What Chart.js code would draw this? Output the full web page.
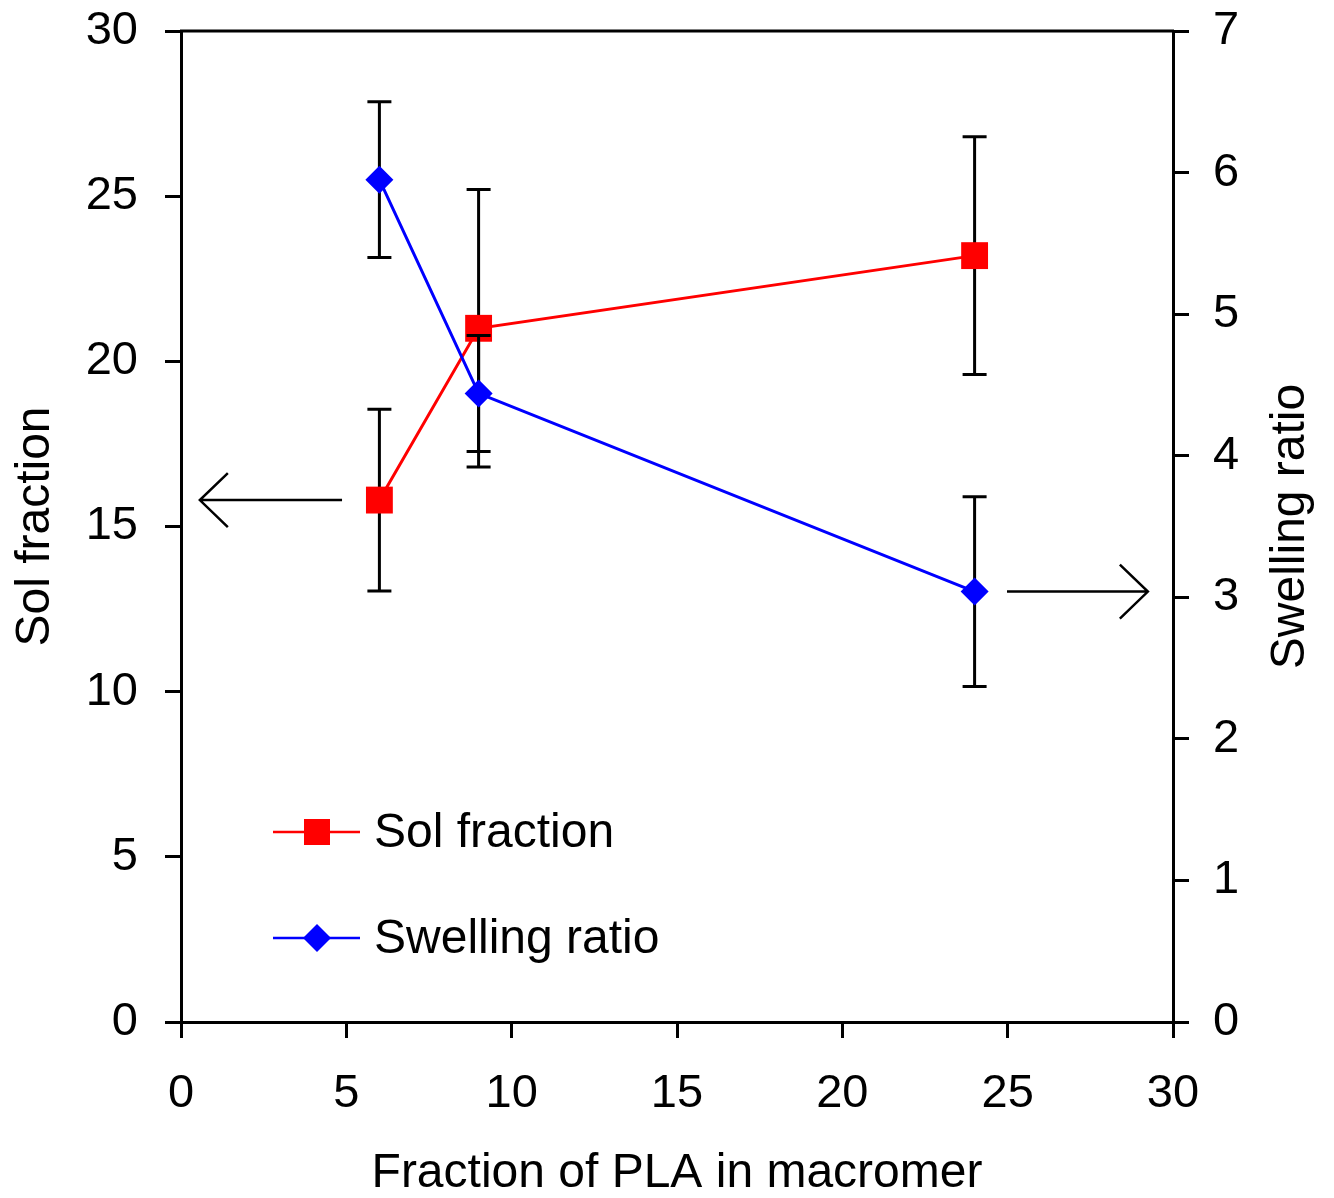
<!DOCTYPE html>
<html>
<head>
<meta charset="utf-8">
<script src="https://cdn.jsdelivr.net/npm/chart.js@4.4.0/dist/chart.umd.min.js"></script>
<style>
  body { margin: 0; background: #fff; }
  #wrap { width: 1334px; height: 1198px; }
</style>
</head>
<body>
<div id="wrap"><canvas id="plaChart" width="1334" height="1198"></canvas></div>
<script>
// values
const plaFraction = [6, 9, 24];
const solFraction = [15.8, 21.0, 23.2];
const solError = [2.75, 4.2, 3.6];
const swellingRatio = [5.95, 4.44, 3.04];
const swellingError = [0.55, 0.41, 0.67];

const xTicks = [0, 5, 10, 15, 20, 25, 30];
const solTicks = [0, 5, 10, 15, 20, 25, 30];
const swellTicks = [0, 1, 2, 3, 4, 5, 6, 7];

// arrows pointing at the axis each series belongs to (data coordinates)
const arrowSol = { from: 4.87, to: 0.57, y: 15.8, axis: 'y' };
const arrowSwell = { from: 24.98, to: 29.24, y: 3.04, axis: 'y2' };

const FONT = "'Liberation Sans', Arial, sans-serif";

const pts = (xs, ys) => xs.map((x, i) => ({ x: x, y: ys[i] }));

const errorBars = {
  id: 'errorBars',
  beforeDatasetDraw(chart, args) {
    const ds = chart.data.datasets[args.index];
    if (!ds.errors) return;
    const ctx = chart.ctx;
    const xs = chart.scales.x, ys = chart.scales[ds.yAxisID];
    ctx.save();
    ctx.strokeStyle = '#000';
    ctx.lineWidth = 3;
    ds.data.forEach((p, i) => {
      const px = xs.getPixelForValue(p.x);
      const top = ys.getPixelForValue(p.y + ds.errors[i]);
      const bot = ys.getPixelForValue(p.y - ds.errors[i]);
      ctx.beginPath();
      ctx.moveTo(px, top); ctx.lineTo(px, bot);
      ctx.moveTo(px - 12, top); ctx.lineTo(px + 12, top);
      ctx.moveTo(px - 12, bot); ctx.lineTo(px + 12, bot);
      ctx.stroke();
    });
    ctx.restore();
  }
};

function drawArrow(ctx, chart, a) {
  const xs = chart.scales.x, ys = chart.scales[a.axis];
  const x1 = xs.getPixelForValue(a.from), x2 = xs.getPixelForValue(a.to);
  const y = ys.getPixelForValue(a.y);
  const dir = x2 > x1 ? -1 : 1;
  ctx.beginPath();
  ctx.moveTo(x1, y); ctx.lineTo(x2, y);
  ctx.moveTo(x2 + dir * 28, y - 27); ctx.lineTo(x2, y); ctx.lineTo(x2 + dir * 28, y + 27);
  ctx.stroke();
}

const extras = {
  id: 'extras',
  afterDraw(chart) {
    const ctx = chart.ctx;
    const area = chart.chartArea;
    ctx.save();
    // top frame line
    ctx.strokeStyle = '#000';
    ctx.lineWidth = 3;
    ctx.beginPath();
    ctx.moveTo(area.left - 1, area.top); ctx.lineTo(area.right + 1, area.top);
    ctx.stroke();

    ctx.lineWidth = 2.5;
    drawArrow(ctx, chart, arrowSol);
    drawArrow(ctx, chart, arrowSwell);

    // right axis title, reading bottom to top
    ctx.fillStyle = '#000';
    ctx.font = '48px ' + FONT;
    ctx.textAlign = 'center';
    ctx.textBaseline = 'middle';
    ctx.translate(area.right + 118, (area.top + area.bottom) / 2);
    ctx.rotate(-Math.PI / 2);
    ctx.fillText('Swelling ratio', 0, 0);
    ctx.restore();

    // legend in the lower left of the plot
    ctx.save();
    const lx = area.left + 92;
    const rows = [
      { label: 'Sol fraction', color: '#ff0000', style: 'rect', y: area.bottom - 190 },
      { label: 'Swelling ratio', color: '#0000ff', style: 'diamond', y: area.bottom - 84 }
    ];
    rows.forEach((r) => {
      ctx.strokeStyle = r.color;
      ctx.fillStyle = r.color;
      ctx.lineWidth = 2.5;
      ctx.beginPath();
      ctx.moveTo(lx, r.y); ctx.lineTo(lx + 87, r.y);
      ctx.stroke();
      const cx = lx + 44;
      ctx.beginPath();
      if (r.style === 'rect') {
        ctx.rect(cx - 13, r.y - 13, 26, 26);
      } else {
        ctx.moveTo(cx, r.y - 14); ctx.lineTo(cx + 14, r.y);
        ctx.lineTo(cx, r.y + 14); ctx.lineTo(cx - 14, r.y);
        ctx.closePath();
      }
      ctx.fill();
      ctx.fillStyle = '#000';
      ctx.font = '48px ' + FONT;
      ctx.textAlign = 'left';
      ctx.textBaseline = 'middle';
      ctx.fillText(r.label, lx + 101, r.y + 2);
    });
    ctx.restore();
  }
};

const tickFont = { family: FONT, size: 47 };
const titleFont = { family: FONT, size: 48 };
const axisLine = { display: true, color: '#000', width: 3 };
const tickGrid = { drawOnChartArea: false, drawTicks: true, tickLength: 16, color: '#000', lineWidth: 3 };

function noEdgePadding(s) {
  s.paddingTop = 0; s.paddingBottom = 0; s.paddingLeft = 0; s.paddingRight = 0;
}

new Chart(document.getElementById('plaChart'), {
  type: 'line',
  data: {
    datasets: [
      {
        label: 'Sol fraction',
        data: pts(plaFraction, solFraction),
        errors: solError,
        yAxisID: 'y',
        borderColor: '#ff0000',
        backgroundColor: '#ff0000',
        borderWidth: 3,
        pointStyle: 'rect',
        pointRadius: 19,
        pointBorderWidth: 0,
        order: 2
      },
      {
        label: 'Swelling ratio',
        data: pts(plaFraction, swellingRatio),
        errors: swellingError,
        yAxisID: 'y2',
        borderColor: '#0000ff',
        backgroundColor: '#0000ff',
        borderWidth: 3,
        pointStyle: 'rectRot',
        pointRadius: 14,
        pointBorderWidth: 0,
        order: 1
      }
    ]
  },
  options: {
    responsive: false,
    animation: false,
    layout: { padding: { top: 31, left: 0, right: 0, bottom: 0 } },
    plugins: { legend: { display: false }, tooltip: { enabled: false } },
    scales: {
      x: {
        type: 'linear',
        position: 'bottom',
        min: 0, max: 30,
        afterBuildTicks: (s) => { s.ticks = xTicks.map((v) => ({ value: v })); },
        afterFit: (s) => { s.height = 176; noEdgePadding(s); },
        ticks: { font: tickFont, color: '#000', padding: 28 },
        grid: tickGrid,
        border: axisLine,
        title: { display: true, text: 'Fraction of PLA in macromer', color: '#000', font: titleFont, padding: { top: 0, bottom: -5 } }
      },
      y: {
        position: 'left',
        min: 0, max: 30,
        afterBuildTicks: (s) => { s.ticks = solTicks.map((v) => ({ value: v })); },
        afterFit: (s) => { s.width = 181; noEdgePadding(s); },
        ticks: { font: tickFont, color: '#000', padding: 27 },
        grid: tickGrid,
        border: axisLine,
        title: { display: true, text: 'Sol fraction', color: '#000', font: titleFont, padding: { top: 7, bottom: 0 } }
      },
      y2: {
        position: 'right',
        min: 0, max: 7,
        afterBuildTicks: (s) => { s.ticks = swellTicks.map((v) => ({ value: v })); },
        afterFit: (s) => { s.width = 161; noEdgePadding(s); },
        ticks: { font: tickFont, color: '#000', padding: 24 },
        grid: tickGrid,
        border: axisLine
      }
    }
  },
  plugins: [errorBars, extras]
});
</script>
</body>
</html>
